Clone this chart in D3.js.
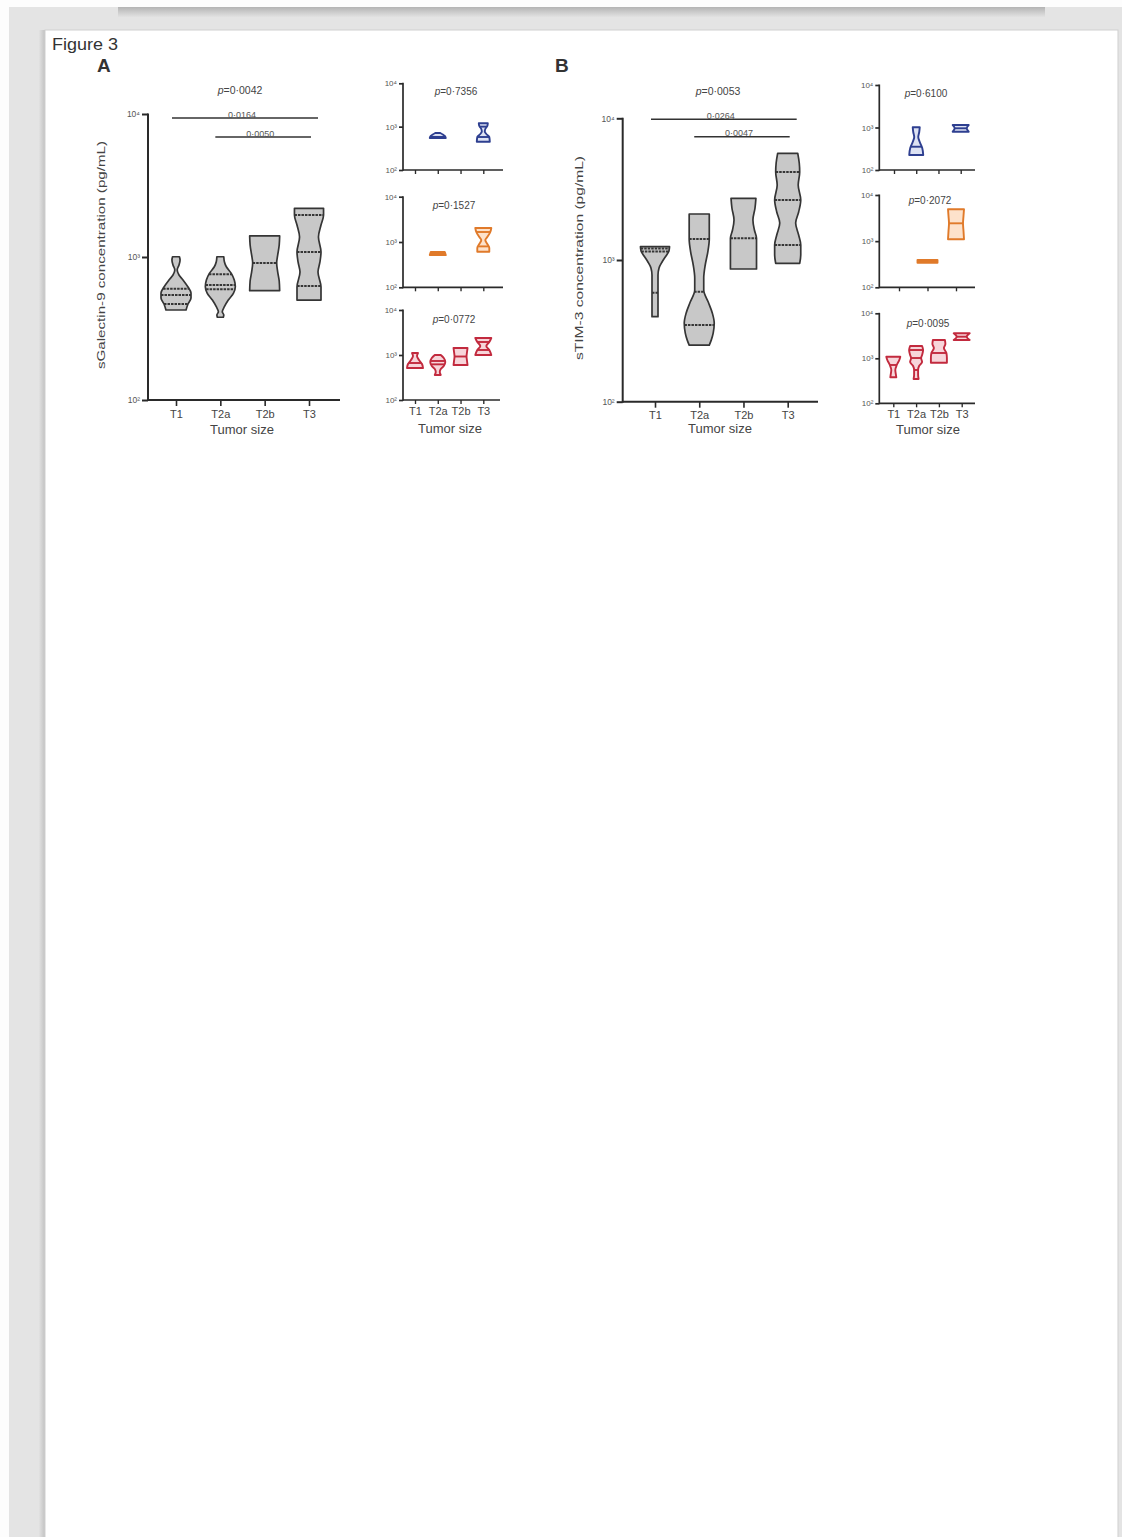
<!DOCTYPE html>
<html><head><meta charset="utf-8">
<script src="https://cdnjs.cloudflare.com/ajax/libs/d3/7.8.5/d3.min.js"></script>
<style>
html,body{margin:0;padding:0;background:#fff;}
svg{display:block;font-family:"Liberation Sans",Arial,sans-serif;}
</style></head><body>
<svg id="c" width="1122" height="1537"></svg>
<script>
// ---------------- DATA ----------------
const categories = ["T1", "T2a", "T2b", "T3"];
const categories3 = ["T1", "T2a", "T3"];
const tickValues = [100, 1000, 10000];
const tickLabels = ["10²", "10³", "10⁴"];

// violin profiles: [concentration pg/mL, relative density 0-100], plus quartile lines
const galectinAll = [
  {cat: "T1",  profile: [[1004,23],[953,27],[879,20],[811,8],[748,20],[690,47],[617,80],[560,100],[516,100],[469,80],[426,67]], lines: [469, 542, 600]},
  {cat: "T2a", profile: [[1004,23],[927,27],[855,40],[769,73],[690,93],[620,100],[557,87],[500,53],[449,27],[414,13],[393,23],[379,20]], lines: [594, 637, 757]},
  {cat: "T2b", profile: [[1403,100],[1213,97],[1033,87],[908,80],[785,87],[679,97],[581,100]], lines: [908]},
  {cat: "T3",  profile: [[2191,97],[1966,97],[1674,80],[1379,63],[1084,80],[923,73],[785,60],[617,80],[500,80]], lines: [626, 1085, 1966]}
];
const galectinBlue = [
  {cat: "T2a", profile: [[714,25],[659,50],[608,70],[547,80]], lines: [580]},
  {cat: "T3",  profile: [[1195,45],[1035,40],[883,20],[773,15],[677,30],[577,60],[450,65]], lines: [1000, 577]}
];
const galectinOrange = [
  {cat: "T2a", profile: [[601,70],[557,75],[516,80]], lines: [557]},
  {cat: "T3",  profile: [[2037,80],[1663,70],[1290,40],[1107,20],[903,40],[737,60],[611,60]], lines: [1663, 800]}
];
const galectinRed = [
  {cat: "T1",  profile: [[1107,30],[950,20],[774,40],[631,70],[514,80]], lines: [664]},
  {cat: "T2a", profile: [[1000,30],[858,60],[699,75],[570,60],[489,30],[419,20],[359,30]], lines: [736, 620]},
  {cat: "T2b", profile: [[1431,70],[1166,65],[926,60],[736,65],[599,70]], lines: [926]},
  {cat: "T3",  profile: [[2388,80],[1945,60],[1585,30],[1292,60],[1000,80]], lines: [1945, 1292]}
];
const tim3All = [
  {cat: "T1",  profile: [[1241,97],[1158,93],[1067,73],[968,47],[879,27],[784,20],[614,20],[481,20],[398,20]], lines: [588, 1148, 1205]},
  {cat: "T2a", profile: [[2112,67],[1767,67],[1406,67],[1138,57],[922,40],[746,30],[614,30],[505,60],[423,87],[359,100],[305,93],[272,80],[251,67]], lines: [348, 598, 1406]},
  {cat: "T2b", profile: [[2725,83],[2328,77],[1916,63],[1629,73],[1423,87],[1085,87],[864,87]], lines: [1423]},
  {cat: "T3",  profile: [[5662,67],[4839,77],[4179,80],[3383,70],[2651,87],[2181,73],[1824,53],[1500,73],[1277,87],[1085,87],[948,80]], lines: [1277, 2651, 4179]}
];
const tim3Blue = [
  {cat: "T2a", profile: [[1011,35],[784,30],[598,20],[456,35],[329,60],[225,70]], lines: [353]},
  {cat: "T3",  profile: [[1145,80],[958,60],[796,80]], lines: [958]}
];
const tim3Orange = [
  {cat: "T2a", profile: [[391,100],[366,100],[341,100]], lines: [366]},
  {cat: "T3",  profile: [[4898,80],[3508,75],[2436,70],[1659,75],[1097,80]], lines: [2436]}
];
const tim3Red = [
  {cat: "T1",  profile: [[1086,70],[916,60],[710,35],[550,20],[448,25],[378,30]], lines: [710]},
  {cat: "T2a", profile: [[1877,60],[1528,70],[1184,60],[1015,50],[827,60],[674,30],[550,20],[426,20],[347,25]], lines: [1528, 1015, 550]},
  {cat: "T2b", profile: [[2551,60],[2078,65],[1693,50],[1312,75],[1015,80],[798,80]], lines: [1312]},
  {cat: "T3",  profile: [[3593,80],[3020,50],[2551,80]], lines: [3020]}
];
const pValues = {
  galAll: "0·0042", galBlue: "0·7356", galOrange: "0·1527", galRed: "0·0772",
  timAll: "0·0053", timBlue: "0·6100", timOrange: "0·2072", timRed: "0·0095"
};
const galBrackets = [{from: "T1", to: "T3", p: "0·0164"}, {from: "T2a", to: "T3", p: "0·0050"}];
const timBrackets = [{from: "T1", to: "T3", p: "0·0264"}, {from: "T2a", to: "T3", p: "0·0047"}];

// ---------------- DRAW ----------------
const svg = d3.select("#c");
const defs = svg.append("defs");
const g1 = defs.append("linearGradient").attr("id","topShadow").attr("x1",0).attr("y1",0).attr("x2",0).attr("y2",1);
g1.append("stop").attr("offset","0%").attr("stop-color","#b4b4b4");
g1.append("stop").attr("offset","100%").attr("stop-color","#e2e2e2");
const g2 = defs.append("linearGradient").attr("id","leftShadow").attr("x1",0).attr("y1",0).attr("x2",1).attr("y2",0);
g2.append("stop").attr("offset","0%").attr("stop-color","#e2e2e2");
g2.append("stop").attr("offset","100%").attr("stop-color","#c2c2c2");

// viewer frame
svg.append("rect").attr("width",1122).attr("height",1537).attr("fill","#fdfdfd");
svg.append("rect").attr("x",9).attr("y",7).attr("width",1113).attr("height",1530).attr("fill","#e4e4e4");
svg.append("rect").attr("x",118).attr("y",7).attr("width",927).attr("height",10).attr("fill","url(#topShadow)");
svg.append("rect").attr("x",39).attr("y",30).attr("width",6).attr("height",1507).attr("fill","url(#leftShadow)");
svg.append("rect").attr("x",45).attr("y",30).attr("width",1073).attr("height",1510)
  .attr("fill","#ffffff").attr("stroke","#cfcfcf").attr("stroke-width",1);

svg.append("text").attr("x",52).attr("y",50).attr("font-size",16.5).attr("fill","#333")
  .attr("textLength",66).attr("lengthAdjust","spacingAndGlyphs").text("Figure 3");
svg.append("text").attr("x",97).attr("y",72).attr("font-size",19).attr("font-weight","bold").attr("fill","#333").text("A");
svg.append("text").attr("x",555).attr("y",72).attr("font-size",19).attr("font-weight","bold").attr("fill","#333").text("B");

const palettes = {
  grey:   {stroke: "#353535", fill: "#c8c8c8"},
  blue:   {stroke: "#2e3f90", fill: "#dde2f3"},
  orange: {stroke: "#e07a2a", fill: "#fde2cb"},
  red:    {stroke: "#c22a3e", fill: "#f7d5da"}
};

function pTitle(g, x, y, val, size) {
  const t = g.append("text").attr("x",x).attr("y",y).attr("text-anchor","middle")
    .attr("font-size",size).attr("fill","#444");
  t.append("tspan").attr("font-style","italic").text("p");
  t.append("tspan").text("=" + val);
}

function panel(cfg) {
  const g = svg.append("g");
  const y = d3.scaleLog().domain([100, 10000]).range([cfg.bottom, cfg.top]);
  const x = d3.scalePoint().domain(cfg.cats).range([cfg.x0, cfg.x1]);
  const w = d3.scaleLinear().domain([0, 100]).range([0, cfg.maxHalf]);
  const pal = palettes[cfg.color];

  // y axis
  const ya = g.append("g").attr("transform", `translate(${cfg.axisX},0)`)
    .call(d3.axisLeft(y).tickValues(tickValues).tickFormat((d,i) => tickLabels[i]).tickSize(cfg.tick).tickPadding(2));
  ya.select(".domain").remove();
  ya.selectAll("line").attr("stroke","#2a2a2a").attr("stroke-width",cfg.axisW);
  ya.selectAll("text").attr("font-size",cfg.yFont).attr("fill","#555").attr("font-family","Liberation Sans, Arial, sans-serif");
  g.append("line").attr("x1",cfg.axisX).attr("x2",cfg.axisX).attr("y1",cfg.top-0.5).attr("y2",cfg.bottom+cfg.axisW/2)
    .attr("stroke","#2a2a2a").attr("stroke-width",cfg.axisW);

  // x axis
  const xa = g.append("g").attr("transform", `translate(0,${cfg.bottom})`)
    .call(d3.axisBottom(x).tickSize(cfg.tick).tickPadding(cfg.xPad).tickFormat(cfg.labels ? (d => d) : () => ""));
  xa.select(".domain").remove();
  xa.selectAll("line").attr("stroke","#2a2a2a").attr("stroke-width",cfg.axisW*0.8);
  xa.selectAll("text").attr("font-size",11).attr("fill","#444").attr("font-family","Liberation Sans, Arial, sans-serif");
  g.append("line").attr("x1",cfg.axisX).attr("x2",cfg.xEnd).attr("y1",cfg.bottom).attr("y2",cfg.bottom)
    .attr("stroke","#2a2a2a").attr("stroke-width",cfg.axisW);

  if (cfg.labels) {
    g.append("text").attr("x",cfg.xTitleX).attr("y",cfg.xTitleY).attr("text-anchor","middle")
      .attr("font-size",13).attr("fill","#444").text("Tumor size");
  }
  if (cfg.yTitle) {
    g.append("text").attr("transform",`translate(${cfg.yTitleX},${cfg.yTitleY}) rotate(-90)`)
      .attr("text-anchor","middle").attr("font-size",11.5).attr("fill","#444")
      .attr("textLength",cfg.yTitleLen).attr("lengthAdjust","spacingAndGlyphs").text(cfg.yTitle);
  }
  pTitle(g, cfg.pX, cfg.pY, cfg.p, cfg.pFont);

  // violins
  const area = d3.area()
    .y(d => y(d[0]))
    .x0(d => 0 - w(d[1]))
    .x1(d => 0 + w(d[1]))
    .curve(d3.curveMonotoneY);
  cfg.data.forEach(v => {
    const vg = g.append("g").attr("transform", `translate(${x(v.cat)},0)`);
    vg.append("path").attr("d", area(v.profile))
      .attr("fill", pal.fill).attr("stroke", pal.stroke).attr("stroke-width", cfg.vStroke)
      .attr("stroke-linejoin","round");
    const sorted = v.profile.slice().sort((a,b) => a[0]-b[0]);
    const dens = d3.scaleLinear().domain(sorted.map(d => Math.log10(d[0]))).range(sorted.map(d => d[1])).clamp(true);
    v.lines.forEach(val => {
      const hw = w(dens(Math.log10(val)));
      vg.append("line").attr("x1",-hw).attr("x2",hw).attr("y1",y(val)).attr("y2",y(val))
        .attr("stroke", pal.stroke).attr("stroke-width", cfg.vStroke + (cfg.color === "grey" ? 0.3 : 0))
        .attr("stroke-dasharray", cfg.color === "grey" ? "2.5,1" : null);
    });
  });

  // brackets
  if (cfg.brackets) {
    cfg.brackets.forEach((b, i) => {
      const off = i === 0 ? [-4, 9] : [-5, 2];
      const xa1 = x(b.from) + off[0], xa2 = x(b.to) + off[1];
      const yy = cfg.bracketY[i];
      g.append("line").attr("x1",xa1).attr("x2",xa2).attr("y1",yy).attr("y2",yy)
        .attr("stroke","#333").attr("stroke-width",1.6);
      g.append("text").attr("x",(xa1+xa2)/2 - 3).attr("y",yy - 0.5).attr("text-anchor","middle")
        .attr("font-size",9).attr("fill","#555").text(b.p);
    });
  }
}

const mainBase = {maxHalf: 15, tick: 6, axisW: 2, yFont: 8.5, vStroke: 1.7, labels: true, xPad: 4, pFont: 10.5, color: "grey"};
const smallBase = {maxHalf: 10, tick: 4, axisW: 1.7, yFont: 8, vStroke: 1.9, labels: false, xPad: 3, pFont: 10, cats: categories};

// Panel A main
panel(Object.assign({}, mainBase, {
  cats: categories, data: galectinAll, top: 114, bottom: 400, axisX: 148, xEnd: 340, x0: 176, x1: 309,
  xTitleX: 242, xTitleY: 434, yTitle: "sGalectin-9 concentration (pg/mL)", yTitleX: 105, yTitleY: 255, yTitleLen: 228,
  pX: 240, pY: 94, p: pValues.galAll, brackets: galBrackets, bracketY: [118, 137]
}));
// Panel A small
panel(Object.assign({}, smallBase, {color: "blue", data: galectinBlue, top: 83.3, bottom: 170, axisX: 403, xEnd: 503, x0: 415, x1: 483.3, pX: 456, pY: 94.5, p: pValues.galBlue}));
panel(Object.assign({}, smallBase, {color: "orange", data: galectinOrange, top: 196.7, bottom: 287.3, axisX: 403, xEnd: 503, x0: 415, x1: 483.3, pX: 454, pY: 209, p: pValues.galOrange}));
panel(Object.assign({}, smallBase, {color: "red", data: galectinRed, top: 310, bottom: 400, axisX: 403, xEnd: 500, x0: 415, x1: 483.3, pX: 454, pY: 322.5, p: pValues.galRed,
  labels: true, xTitleX: 450, xTitleY: 433}));

// Panel B main
panel(Object.assign({}, mainBase, {
  cats: categories, data: tim3All, top: 118.3, bottom: 401.7, axisX: 622.7, xEnd: 818, x0: 655, x1: 787.7,
  xTitleX: 720, xTitleY: 433, yTitle: "sTIM-3 concentration (pg/mL)", yTitleX: 583, yTitleY: 258, yTitleLen: 204,
  pX: 718, pY: 95, p: pValues.timAll, brackets: timBrackets, bracketY: [119.3, 136.7]
}));
// Panel B small
panel(Object.assign({}, smallBase, {color: "blue", data: tim3Blue, top: 85, bottom: 170, axisX: 879.3, xEnd: 975, x0: 894, x1: 960.7, pX: 926, pY: 97, p: pValues.timBlue}));
panel(Object.assign({}, smallBase, {color: "orange", cats: categories3, data: tim3Orange, top: 195, bottom: 287.3, axisX: 879.3, xEnd: 975, x0: 899, x1: 956, pX: 930, pY: 204, p: pValues.timOrange}));
panel(Object.assign({}, smallBase, {color: "red", data: tim3Red, top: 313.3, bottom: 403.3, axisX: 879.3, xEnd: 975, x0: 893.3, x1: 961.7, pX: 928, pY: 326.5, p: pValues.timRed,
  labels: true, xTitleX: 928, xTitleY: 434}));
</script>
</body></html>
